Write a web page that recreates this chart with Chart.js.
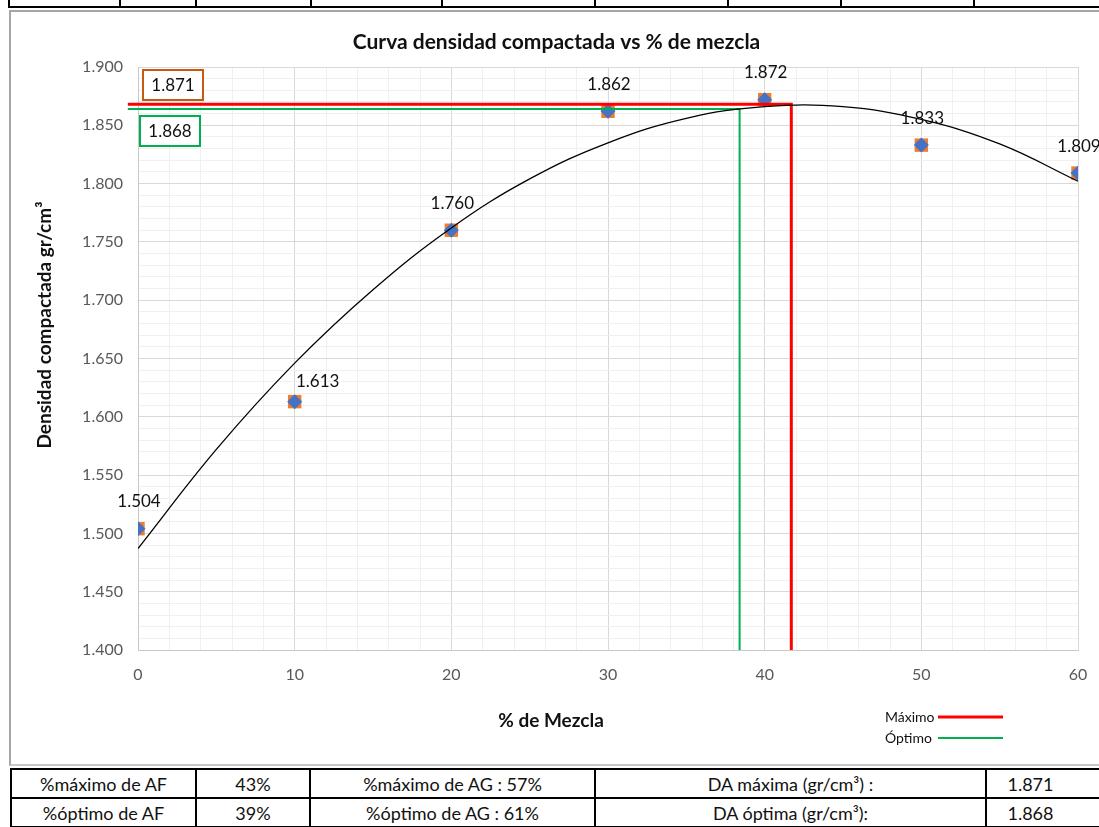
<!DOCTYPE html>
<html>
<head>
<meta charset="utf-8">
<script src="https://cdn.jsdelivr.net/npm/chart.js@4.4.1/dist/chart.umd.min.js"></script>
<style>
    html, body { margin: 0; background: #fff; font-family: 'Lato', sans-serif; overflow: hidden; }
    #grafico { position: absolute; left: 0; top: 0; }
    .hoja { position: absolute; background: #000; }
    #marco { position: absolute; left: 9px; top: 10px; width: 1100px; height: 752px;
             border-left: 2px solid #a6a6a6; border-top: 2px solid #a6a6a6; border-bottom: 2px solid #c8c8c8; }
    table { position: absolute; left: 10px; top: 768px; border-collapse: collapse;
            table-layout: fixed; width: 1120px; }
    td { border: 2px solid #000; height: 27px; padding: 0; text-align: center;
         font-size: 18px; color: #111; white-space: nowrap; }
    td.ult { padding-right: 56px; }
</style>
</head>
<body>
<canvas id="grafico" width="1099" height="766"></canvas>
<div id="marco"></div>
<div id="lineas"></div>
<table>
    <colgroup><col style="width:185px"><col style="width:114px"><col style="width:285px"><col style="width:391px"><col style="width:145px"></colgroup>
    <tr><td>%máximo de AF</td><td>43%</td><td>%máximo de AG : 57%</td><td>DA máxima (gr/cm³) :</td><td class="ult">1.871</td></tr>
    <tr><td>%óptimo de AF</td><td>39%</td><td>%óptimo de AG : 61%</td><td>DA óptima (gr/cm³):</td><td class="ult">1.868</td></tr>
</table>
<script>
// datos
const mezcla   = [0, 10, 20, 30, 40, 50, 60];
const densidad = [1.504, 1.613, 1.760, 1.862, 1.872, 1.833, 1.809];

// linea de tendencia (polinomica) leida punto a punto
const tendX = [0, 5, 10, 15, 20, 25, 30, 35, 40, 45, 50, 55, 60];
const tendY = [1.487, 1.572, 1.646, 1.709, 1.762, 1.804, 1.835, 1.856, 1.866, 1.866, 1.855, 1.834, 1.802];

// lineas de maximo y optimo
const maxX = [-0.65, 41.7, 41.7];
const maxY = [1.868, 1.868, 1.400];
const optX = [-0.65, 38.4, 38.4];
const optY = [1.864, 1.864, 1.400];

const cajas = ['1.871', '1.868'];
const leyenda = ['Máximo', 'Óptimo'];

// lineas de celdas de la hoja arriba
const celdasX = [8, 119, 195, 310, 441, 594, 727, 840, 973];

const lineas = document.getElementById('lineas');
const hz = document.createElement('div');
hz.className = 'hoja';
hz.style.cssText = 'left:8px;top:6px;width:1091px;height:2px';
lineas.appendChild(hz);
celdasX.forEach(x => {
    const v = document.createElement('div');
    v.className = 'hoja';
    v.style.cssText = `left:${x}px;top:0;width:2px;height:8px`;
    lineas.appendChild(v);
});

function puntos(xs, ys) {
    return xs.map((x, i) => ({ x: x, y: ys[i] }));
}

Chart.defaults.font.family = 'Lato';

const extras = {
    id: 'extras',
    afterDatasetsDraw(chart) {
        const ctx = chart.ctx;
        const meta = chart.getDatasetMeta(3);
        ctx.save();
        ctx.font = '17px Lato';
        ctx.fillStyle = '#111';
        ctx.textAlign = 'center';
        ctx.textBaseline = 'middle';
        meta.data.forEach((pt, i) => {
            let dx = 1, dy = -27;
            if (i === 1) { dx = 23; dy = -20; }
            ctx.fillText(densidad[i].toFixed(3), pt.x + dx, pt.y + dy);
        });

        // cajas con valores
        const a = chart.chartArea;
        const cajaCol = ['#C55A11', '#00B050'];
        const cajaPos = [[a.left + 5, a.top + 3], [a.left + 2, a.top + 49]];
        cajas.forEach((t, i) => {
            const [x, y] = cajaPos[i];
            ctx.fillStyle = '#fff';
            ctx.fillRect(x, y, 60, 30);
            ctx.strokeStyle = cajaCol[i];
            ctx.lineWidth = 2;
            ctx.strokeRect(x, y, 60, 30);
            ctx.fillStyle = '#111';
            ctx.fillText(t, x + 30, y + 16);
        });

        // titulos de ejes (Excel no los centra en el area)
        ctx.font = 'bold 19px Lato';
        ctx.fillText('% de Mezcla', 551, 721);
        ctx.save();
        ctx.translate(45, 325);
        ctx.rotate(-Math.PI / 2);
        ctx.fillText('Densidad compactada gr/cm³', 0, 0);
        ctx.restore();

        // leyenda
        const legCol = ['#FF0000', '#00B050'];
        const legW = [3, 2];
        ctx.font = '14px Lato';
        ctx.textAlign = 'left';
        leyenda.forEach((t, i) => {
            const y = 717 + i * 21;
            ctx.fillStyle = '#111';
            ctx.fillText(t, 885, y);
            ctx.strokeStyle = legCol[i];
            ctx.lineWidth = legW[i];
            ctx.beginPath();
            ctx.moveTo(938, y);
            ctx.lineTo(1003, y);
            ctx.stroke();
        });
        ctx.restore();
    }
};

new Chart(document.getElementById('grafico'), {
    type: 'scatter',
    data: {
        datasets: [
            {
                label: 'Tendencia',
                data: puntos(tendX, tendY),
                showLine: true,
                borderColor: '#000',
                borderWidth: 1.3,
                pointRadius: 0,
                tension: 0.4
            },
            {
                label: 'Máximo',
                data: puntos(maxX, maxY),
                showLine: true,
                borderColor: '#FF0000',
                borderWidth: 3,
                pointRadius: 0,
                tension: 0,
                clip: false
            },
            {
                label: 'Óptimo',
                data: puntos(optX, optY),
                showLine: true,
                borderColor: '#00B050',
                borderWidth: 2,
                pointRadius: 0,
                tension: 0,
                clip: false
            },
            {
                label: 'Densidad',
                data: puntos(mezcla, densidad),
                pointStyle: 'rectRot',
                pointRadius: 7.5,
                backgroundColor: '#4472C4',
                borderColor: '#4472C4',
                borderWidth: 0
            },
            {
                label: 'Densidad 2',
                data: puntos(mezcla, densidad),
                pointStyle: 'rect',
                pointRadius: 9.5,
                backgroundColor: '#ED7D31',
                borderColor: '#ED7D31',
                borderWidth: 0
            }
        ]
    },
    options: {
        animation: false,
        responsive: false,
        devicePixelRatio: 1,
        layout: {
            autoPadding: false,
            padding: { left: 35, right: 21, top: 29.4, bottom: 35 }
        },
        plugins: {
            legend: { display: false },
            tooltip: { enabled: false },
            title: {
                display: true,
                text: 'Curva densidad compactada vs % de mezcla',
                color: '#111',
                font: { size: 21, weight: 'bold', lineHeight: 1.2 },
                padding: { top: 0, bottom: 12.4 }
            }
        },
        scales: {
            x: {
                type: 'linear',
                min: 0,
                max: 60,
                ticks: {
                    stepSize: 2,
                    autoSkip: false,
                    maxRotation: 0,
                    padding: 15,
                    color: '#595959',
                    font: { size: 16 },
                    callback: v => (v % 10 === 0 ? v : '')
                },
                grid: {
                    drawTicks: false,
                    color: c => (c.tick && c.tick.value % 10 === 0 ? '#d9d9d9' : '#f0f0f0')
                },
                border: { color: '#c8c8c8' },
                afterFit: s => {
                    s.height = 81;
                    // que el padding de las etiquetas no achique el area
                    s.paddingLeft = 0;
                    s.paddingRight = 0;
                }
            },
            y: {
                min: 1.4,
                max: 1.9,
                ticks: {
                    stepSize: 0.01,
                    autoSkip: false,
                    padding: 15,
                    color: '#595959',
                    font: { size: 16 },
                    callback: (v, i) => (i % 5 === 0 ? v.toFixed(3) : '')
                },
                grid: {
                    drawTicks: false,
                    color: c => (c.tick && Math.round(c.tick.value * 100) % 5 === 0 ? '#d9d9d9' : '#f0f0f0')
                },
                border: { color: '#c8c8c8' },
                afterFit: s => { s.width = 103; }
            }
        }
    },
    plugins: [extras]
});
</script>
</body>
</html>
